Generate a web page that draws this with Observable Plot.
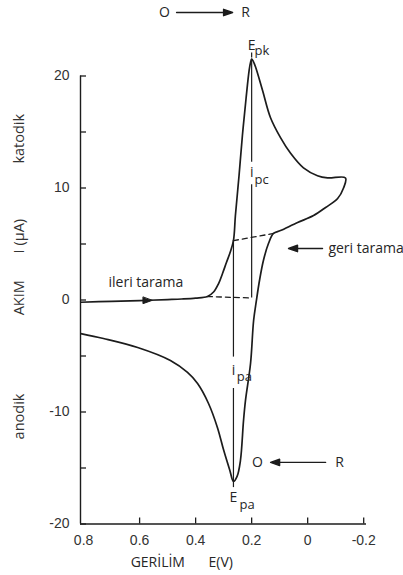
<!DOCTYPE html>
<html>
<head>
<meta charset="utf-8">
<script src="https://cdn.jsdelivr.net/npm/d3@7"></script>
<script src="https://cdn.jsdelivr.net/npm/@observablehq/plot@0.6"></script>
<style>
  html, body { margin: 0; padding: 0; background: #fff; }
</style>
</head>
<body>
<div id="chart"></div>
<script>
// Cyclic voltammogram of a reversible O ⇄ R couple.
// Potential E (V) and current I (µA), in scan order: forward (cathodic) sweep,
// switching at about -0.13 V, then the reverse (anodic) sweep back to 0.8 V.
const potential = [
  0.81, 0.70, 0.60, 0.50, 0.45, 0.40, 0.358, 0.336, 0.318, 0.304, 0.290, 0.277,
  0.265, 0.258, 0.245, 0.233, 0.220, 0.209, 0.204, 0.200, 0.195,
  0.186, 0.161, 0.133, 0.097, 0.061, 0.015, -0.035, -0.071, -0.135,
  -0.128, -0.107, -0.064, -0.021, 0.036, 0.097, 0.122, 0.140, 0.158, 0.172,
  0.183, 0.193, 0.204, 0.222, 0.229, 0.240, 0.252, 0.265,
  0.278, 0.300, 0.322, 0.354, 0.393, 0.429, 0.490, 0.607, 0.729, 0.81
];
const current = [
  -0.2, -0.12, -0.05, 0.04, 0.09, 0.17, 0.31, 0.71, 1.47, 2.37, 3.35, 4.24,
  5.3, 7.54, 11.12, 14.69, 17.99, 20.5, 21.2, 21.5, 21.35,
  20.8, 18.7, 16.3, 14.5, 13.1, 11.8, 11.1, 10.9, 10.9,
  10.0, 9.06, 8.26, 7.54, 6.92, 6.2, 5.94, 5.04, 3.53, 1.74,
  -0.04, -1.83, -5.67, -8.97, -10.76, -14.33, -15.75, -16.2,
  -15.2, -13.4, -11.4, -9.24, -7.46, -6.47, -5.4, -4.24, -3.44, -3.0
];

// Peak potentials and currents
const Epk = 0.2, Ipk = 21.5;     // cathodic peak
const Epa = 0.265, Ipa = -16.2;  // anodic peak

// Extrapolated baselines used to measure the peak currents
const cathodicBaseE = [0.358, 0.2];
const cathodicBaseI = [0.31, 0.18];
const anodicBaseE = [0.265, 0.122];
const anodicBaseI = [5.3, 5.94];

// Axes
const xTicks = [0.8, 0.6, 0.4, 0.2, 0, -0.2];
const xTickLabels = ["0.8", "0.6", "0.4", "0.2", "0", "-0.2"];
const yTicks = [20, 10, 0, -10, -20];
const yTickLabels = ["20", "10", "0", "-10", "-20"];
const yMinorTicks = [15, 5, -5, -15];
const xDomain = [0.811, -0.21];
const yDomain = [-20, 20];

const ink = "#1c1c1c";
const textInk = "#262626";
const font = "'Open Sans', 'DejaVu Sans', sans-serif";
const tickFont = "'Liberation Sans', Arial, sans-serif";

const scan = potential.map((E, i) => ({E, I: current[i]}));
const toPoints = (es, is) => es.map((E, i) => ({E, I: is[i]}));

// Arrow with a solid head; drawn pointing up, rotated by the vector mark
const solidArrow = {
  draw(ctx, l) {
    const h = 9, w = 3.2;
    ctx.moveTo(0, 0);
    ctx.lineTo(0, -l + h);
    ctx.moveTo(0, -l);
    ctx.lineTo(w, -l + h);
    ctx.lineTo(-w, -l + h);
    ctx.closePath();
  }
};

const labelStart = [
  {x: 0.19, y: 22.28, text: "pk", size: 13},
  {x: 0.19, y: 10.76, text: "pc", size: 13},
  {x: 0.253, y: -6.83, text: "pa", size: 13},
  {x: 0.243, y: -18.26, text: "pa", size: 13},
  {x: 0.711, y: 1.56, text: "ileri tarama", size: 14},
  {x: -0.074, y: 4.6, text: "geri tarama", size: 14},
  {x: 0.632, y: -23.44, text: "GERİLİM", size: 14},
  {x: 0.354, y: -23.44, text: "E(V)", size: 14}
];
const labelMiddle = [
  {x: 0.511, y: 25.67, text: "O"},
  {x: 0.222, y: 25.67, text: "R"},
  {x: Epk, y: 22.75, text: "E"},
  {x: Epk, y: 11.38, text: "i"},
  {x: Epa, y: -6.3, text: "i"},
  {x: 0.179, y: -14.5, text: "O"},
  {x: -0.114, y: -14.5, text: "R"},
  {x: Epa, y: -17.63, text: "E"}
];
const yTitles = [
  {y: 14.4, text: "katodik"},
  {y: 5.7, text: "I (µA)"},
  {y: 0.2, text: "AKIM"},
  {y: -10.4, text: "anodik"}
];

const chart = Plot.plot({
  width: 403,
  height: 575,
  marginLeft: 80,
  marginRight: 37,
  marginTop: 75.5,
  marginBottom: 51.5,
  x: {domain: xDomain},
  y: {domain: yDomain},
  style: {background: "#fff", color: ink, overflow: "visible", fontFamily: font},
  marks: [
    // axis lines and inward ticks
    Plot.ruleX([xDomain[0]], {stroke: ink, strokeWidth: 1.4}),
    Plot.ruleY([yDomain[0]], {stroke: ink, strokeWidth: 1.4}),
    Plot.tickY(yTicks.concat(yMinorTicks), {y: d => d, insetRight: 280, stroke: ink, strokeWidth: 1.3}),
    Plot.tickX(xTicks.slice(1), {x: d => d, insetTop: 442, stroke: ink, strokeWidth: 1.3}),
    Plot.axisX(xTicks, {
      tickSize: 0, tickPadding: 11, label: null,
      tickFormat: d => xTickLabels[xTicks.indexOf(d)],
      fontSize: 14, fontFamily: tickFont, fill: "#333"
    }),
    Plot.axisY(yTicks, {
      tickSize: 0, tickPadding: 11, label: null,
      tickFormat: d => yTickLabels[yTicks.indexOf(d)],
      fontSize: 14, fontFamily: tickFont, fill: "#333"
    }),

    // baselines (dashed) and peak-current rules
    Plot.line(toPoints(cathodicBaseE, cathodicBaseI), {x: "E", y: "I", stroke: ink, strokeWidth: 1.3, strokeDasharray: "5,4"}),
    Plot.line(toPoints(anodicBaseE, anodicBaseI), {x: "E", y: "I", stroke: ink, strokeWidth: 1.3, strokeDasharray: "5,4"}),
    Plot.ruleX([
      {x: Epk, y1: cathodicBaseI[1], y2: 10.3},
      {x: Epk, y1: 12.3, y2: Ipk},
      {x: Epa, y1: anodicBaseI[0], y2: -5.1},
      {x: Epa, y1: -7.9, y2: Ipa}
    ], {x: "x", y1: "y1", y2: "y2", stroke: ink, strokeWidth: 1.2}),
    // small markers at the peak potentials
    Plot.ruleX([
      {x: Epk, y1: 21.6, y2: 22.05},
      {x: Epa, y1: Ipa, y2: -16.75}
    ], {x: "x", y1: "y1", y2: "y2", stroke: ink, strokeWidth: 1.2}),

    // the voltammogram
    Plot.line(scan, {x: "E", y: "I", curve: "catmull-rom", stroke: ink, strokeWidth: 1.7}),
    // scan direction marker on the forward sweep
    Plot.vector([{x: 0.572, y: -0.04}], {x: "x", y: "y", rotate: 90, length: 9, anchor: "middle", shape: solidArrow, stroke: ink, fill: ink, strokeWidth: 1}),

    // annotation arrows
    Plot.vector([{x: 0.468, y: 25.67}], {x: "x", y: "y", rotate: 90, length: 56, anchor: "start", shape: solidArrow, stroke: ink, fill: ink, strokeWidth: 1.4}),
    Plot.vector([{x: -0.053, y: 4.6}], {x: "x", y: "y", rotate: -90, length: 34, anchor: "start", shape: solidArrow, stroke: ink, fill: ink, strokeWidth: 1.4}),
    Plot.vector([{x: -0.064, y: -14.5}], {x: "x", y: "y", rotate: -90, length: 55, anchor: "start", shape: solidArrow, stroke: ink, fill: ink, strokeWidth: 1.4}),

    // labels
    Plot.text(labelMiddle, {x: "x", y: "y", text: "text", textAnchor: "middle", fontSize: 14, fill: textInk}),
    Plot.text(labelStart, {x: "x", y: "y", text: "text", textAnchor: "start", fontSize: "size", fill: textInk}),
    Plot.text(yTitles, {y: "y", text: "text", frameAnchor: "left", textAnchor: "middle", dx: -61, rotate: -90, fontSize: 14.5, fill: "#333"})
  ]
});

document.getElementById("chart").appendChild(chart);
</script>
</body>
</html>
